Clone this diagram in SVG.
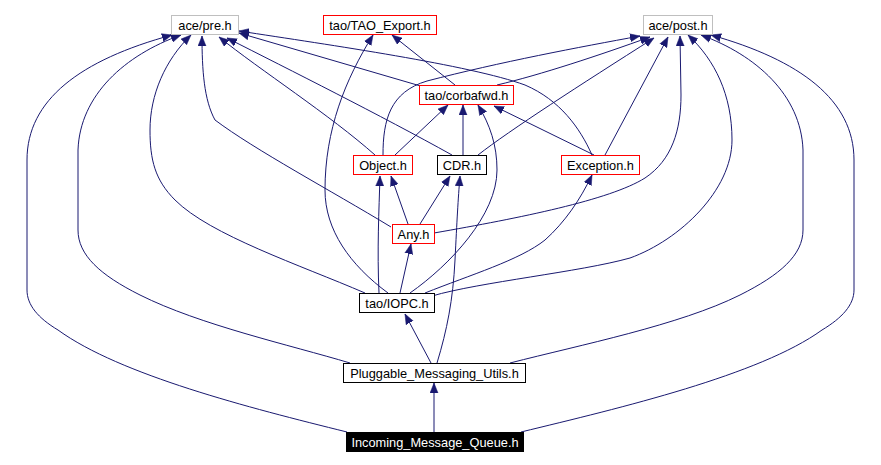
<svg xmlns="http://www.w3.org/2000/svg" width="881" height="465" viewBox="0 0 881 465">
<defs>
<marker id="ah" markerUnits="userSpaceOnUse" markerWidth="11" markerHeight="9" refX="10" refY="4.5" orient="auto">
<path d="M0,0.5 L10,4.5 L0,8.5 z" fill="#191970" stroke="#191970" stroke-width="0.5"/>
</marker>
<style>
.e{fill:none;stroke:#191970;stroke-width:1;marker-end:url(#ah)}
.n rect{fill:#fff;stroke-width:1}
.g rect{stroke:#bfbfbf}
.r rect{stroke:#ff0000}
.k rect{stroke:#000}
.n text{font-family:"Liberation Sans",Arial,sans-serif;font-size:12.8px;fill:#000;text-anchor:middle}
#incoming rect{fill:#000;stroke:#000}
#incoming text{fill:#fff}
</style>
</defs>
<rect width="881" height="465" fill="#fff"/>
<g id="edges">
<path class="e" d="M434,432 L434,383"/>
<path class="e" d="M347,432 C250,408 120,375 58,330 C38,318 27,305 27,290 L27,160 C27,100 80,60 172,35"/>
<path class="e" d="M521,432 C620,408 760,375 822,330 C842,318 854,305 854,290 L854,160 C854,100 800,60 711,35"/>
<path class="e" d="M350,363 C290,345 200,325 140,295 C100,275 78,255 78,230 L78,150 C80,95 125,55 181,35"/>
<path class="e" d="M510,363 C580,345 680,325 740,295 C780,275 803,255 803,230 L803,150 C801,95 756,55 701,35"/>
<path class="e" d="M365,293 C300,265 210,235 175,200 C155,180 150,160 150,130 C150,95 165,60 191,35"/>
<path class="e" d="M432,296 C480,282 580,272 630,258 C680,240 732,190 732,140 C732,95 715,60 688,35"/>
<path class="e" d="M388,293 C350,265 325,230 325,190 C325,130 345,80 373,35"/>
<path class="e" d="M379,293 C377,250 379,210 380,176"/>
<path class="e" d="M400,293 L411,244"/>
<path class="e" d="M410,293 C450,265 497,215 497,170 C497,145 490,125 478,105"/>
<path class="e" d="M425,293 C470,275 520,260 545,240 C565,222 580,200 592,175"/>
<path class="e" d="M391,227 C330,190 255,150 215,120 C204,100 202,70 202,36"/>
<path class="e" d="M408,224 L391,176"/>
<path class="e" d="M420,224 L450,176"/>
<path class="e" d="M434,233 C520,218 610,200 645,178 C672,160 681,130 681,95 L680,36"/>
<path class="e" d="M375,155 C330,115 260,70 219,37"/>
<path class="e" d="M395,155 L448,105"/>
<path class="e" d="M383,155 C383,120 390,92 427,81 C500,62 580,47 640,36"/>
<path class="e" d="M452,155 C380,115 290,70 227,38"/>
<path class="e" d="M463,155 L463,105"/>
<path class="e" d="M478,155 C510,130 580,85 654,38"/>
<path class="e" d="M424,87 L239,33"/>
<path class="e" d="M455,85 L392,35"/>
<path class="e" d="M497,85 C540,75 600,55 650,37"/>
<path class="e" d="M592,155 C580,128 560,100 525,85 C470,65 330,45 239,31"/>
<path class="e" d="M594,155 L494,106"/>
<path class="e" d="M605,155 L668,37"/>
<path class="e" d="M431,363 L405,314"/>
<path class="e" d="M437,363 C447,330 453,300 455,260 C457,220 458,200 460,176"/>
</g>
<g id="pre" class="n g"><rect x="171.5" y="15.5" width="67" height="19"/><text x="205" y="29.5">ace/pre.h</text></g>
<g id="taoexport" class="n r"><rect x="323.5" y="15.5" width="113" height="19"/><text x="380" y="29.5">tao/TAO_Export.h</text></g>
<g id="post" class="n g"><rect x="643.5" y="15.5" width="69" height="19"/><text x="678" y="29.5">ace/post.h</text></g>
<g id="corbafwd" class="n r"><rect x="419.5" y="85.5" width="94" height="19"/><text x="466.5" y="99.5">tao/corbafwd.h</text></g>
<g id="object" class="n r"><rect x="353.5" y="155.5" width="59" height="19"/><text x="383" y="169.5">Object.h</text></g>
<g id="cdr" class="n k"><rect x="437.5" y="155.5" width="49" height="19"/><text x="462" y="169.5">CDR.h</text></g>
<g id="exception" class="n r"><rect x="561.5" y="155.5" width="78" height="19"/><text x="600.5" y="169.5">Exception.h</text></g>
<g id="any" class="n r"><rect x="392.5" y="224.5" width="42" height="19"/><text x="413.5" y="238.5">Any.h</text></g>
<g id="iopc" class="n k"><rect x="359.5" y="293.5" width="75" height="19"/><text x="397" y="307.5">tao/IOPC.h</text></g>
<g id="pluggable" class="n k"><rect x="343.5" y="363.5" width="182" height="19"/><text x="434.5" y="377.5">Pluggable_Messaging_Utils.h</text></g>
<g id="incoming" class="n k"><rect x="346.5" y="432.5" width="177" height="19"/><text x="435" y="446.5">Incoming_Message_Queue.h</text></g>
</svg>
